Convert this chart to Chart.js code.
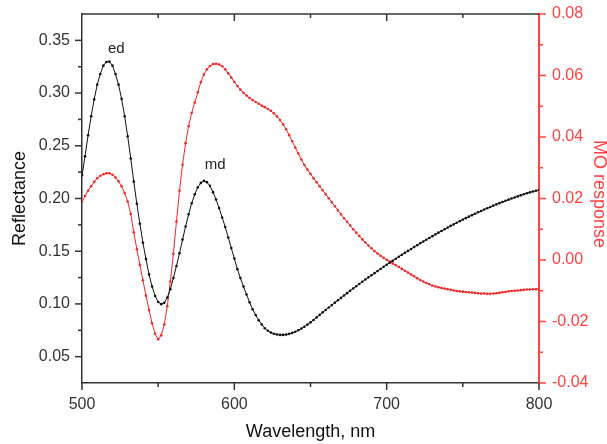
<!DOCTYPE html>
<html>
<head>
<meta charset="utf-8">
<script src="https://cdn.jsdelivr.net/npm/chart.js@4"></script>
<style>
body{margin:0;background:#fff;}
#wrap{width:607px;height:444px;position:relative;}
</style>
</head>
<body>
<div id="wrap"><canvas id="chart"></canvas></div>
<script>
// DATA

const wavelength = [
500,502,504,506,508,510,512,514,516,518,
520,522,524,526,528,530,532,534,536,538,
540,542,544,546,548,550,552,554,556,558,
560,562,564,566,568,570,572,574,576,578,
580,582,584,586,588,590,592,594,596,598,
600,602,604,606,608,610,612,614,616,618,
620,622,624,626,628,630,632,634,636,638,
640,642,644,646,648,650,652,654,656,658,
660,662,664,666,668,670,672,674,676,678,
680,682,684,686,688,690,692,694,696,698,
700,702,704,706,708,710,712,714,716,718,
720,722,724,726,728,730,732,734,736,738,
740,742,744,746,748,750,752,754,756,758,
760,762,764,766,768,770,772,774,776,778,
780,782,784,786,788,790,792,794,796,798,
800];

const reflectance = [
0.222,0.240,0.260,0.278,0.294,0.308,0.318,0.326,0.3295,0.3298,
0.326,0.318,0.308,0.2945,0.278,0.259,0.238,0.216,0.195,0.176,
0.158,0.1425,0.128,0.1165,0.1075,0.1018,0.0998,0.101,0.106,0.114,
0.1245,0.136,0.148,0.161,0.1735,0.185,0.1955,0.204,0.2105,0.2148,
0.2167,0.2155,0.212,0.206,0.199,0.191,0.182,0.173,0.163,0.153,
0.143,0.133,0.1245,0.1165,0.109,0.1015,0.095,0.0895,0.0845,0.0805,
0.077,0.0745,0.0728,0.0717,0.071,0.0706,0.0706,0.0709,0.0716,0.0725,
0.0736,0.075,0.0766,0.0784,0.0804,0.0825,0.0848,0.0872,0.0896,0.092,
0.0943,0.0966,0.0989,0.1012,0.1035,0.1057,0.108,0.1102,0.1124,0.1146,
0.1168,0.1189,0.121,0.1231,0.1252,0.1272,0.1292,0.1312,0.1332,0.1352,
0.1372,0.1391,0.141,0.1429,0.1448,0.1467,0.1485,0.1503,0.1521,0.1539,
0.1557,0.1575,0.1592,0.1609,0.1626,0.1643,0.166,0.1676,0.1692,0.1708,
0.1724,0.174,0.1755,0.177,0.1785,0.18,0.1814,0.1828,0.1842,0.1856,
0.1869,0.1882,0.1895,0.1908,0.192,0.1932,0.1944,0.1956,0.1967,0.1978,
0.1989,0.2,0.201,0.202,0.203,0.204,0.205,0.2058,0.2066,0.2073,
0.208];

const moResponse = [
0.0190,0.0208,0.0225,0.0240,0.0254,0.0266,0.0274,0.0279,0.0282,0.0282,
0.0277,0.0268,0.0256,0.0240,0.0218,0.0190,0.0150,0.0090,0.0035,-0.0016,
-0.0066,-0.0116,-0.0163,-0.0206,-0.0240,-0.0258,-0.0245,-0.0210,-0.0150,-0.0070,
0.0020,0.0125,0.0225,0.0310,0.0380,0.0435,0.0478,0.0512,0.0545,0.0578,
0.0603,0.0620,0.0631,0.0637,0.0638,0.0636,0.0630,0.0620,0.0607,0.0593,
0.0579,0.0566,0.0554,0.0544,0.0535,0.0527,0.0520,0.0514,0.0508,0.0502,
0.0497,0.0491,0.0485,0.0477,0.0467,0.0455,0.0441,0.0425,0.0406,0.0386,
0.0366,0.0346,0.0327,0.0309,0.0294,0.0280,0.0266,0.0253,0.0240,0.0227,
0.0214,0.0201,0.0188,0.0175,0.0162,0.0149,0.0136,0.0124,0.0112,0.0100,
0.0089,0.0078,0.0067,0.0057,0.0047,0.0038,0.0029,0.0021,0.0014,0.0007,
0.0001,-0.0005,-0.0011,-0.0017,-0.0023,-0.0029,-0.0035,-0.0041,-0.0047,-0.0053,
-0.0059,-0.0065,-0.0070,-0.0075,-0.0079,-0.0083,-0.0086,-0.0089,-0.0091,-0.0093,
-0.0095,-0.0097,-0.0099,-0.0101,-0.0102,-0.0103,-0.0104,-0.0105,-0.0106,-0.0107,
-0.0108,-0.0109,-0.0109,-0.0110,-0.0110,-0.0109,-0.0108,-0.0107,-0.0105,-0.0104,
-0.0102,-0.0101,-0.0100,-0.0099,-0.0098,-0.0097,-0.0096,-0.0096,-0.0095,-0.0095,
-0.0094];

const xTitle = "Wavelength, nm";
const yTitle = "Reflectance";
const y2Title = "MO response";

// peak labels, placed in data coordinates
const peakNames = ["ed", "md"];
const peakX = [522.5, 587.4];
const peakY = [0.342, 0.2316];

// STYLE

const RED = "rgb(240,40,40)";
const AXISRED = "rgb(255,65,65)";
const DARK = "#333";
const FONT = "'Liberation Sans', Arial, sans-serif";

Chart.defaults.font.family = FONT;

function isMajor(v, step){
  return Math.abs(v/step - Math.round(v/step)) < 1e-6;
}

// ticks (major/minor), top frame, titles and peak labels
const axisDecor = {
  id: "axisDecor",
  afterDraw(chart){
    const ctx = chart.ctx;
    const a = chart.chartArea;
    const x = chart.scales.x, y = chart.scales.y, y2 = chart.scales.y2;

    function seg(x1, y1, x2, y2_){
      ctx.beginPath(); ctx.moveTo(x1, y1); ctx.lineTo(x2, y2_); ctx.stroke();
    }

    ctx.save();
    ctx.lineWidth = 1.5;
    ctx.strokeStyle = DARK;
    seg(a.left, a.top, a.right, a.top);

    x.ticks.forEach(t=>{
      const px = x.getPixelForValue(t.value);
      const len = isMajor(t.value, 100) ? 7 : 4;
      seg(px, a.bottom, px, a.bottom + len);
      if (t.value > x.min && t.value < x.max) seg(px, a.top, px, a.top + len);
    });

    y.ticks.forEach(t=>{
      if (t.value <= y.min + 1e-9 || t.value >= y.max - 1e-9) return;
      const py = y.getPixelForValue(t.value);
      const len = isMajor(t.value, 0.05) ? 7 : 4;
      seg(a.left, py, a.left - len, py);
    });

    ctx.strokeStyle = AXISRED;
    y2.ticks.forEach(t=>{
      const py = y2.getPixelForValue(t.value);
      const len = isMajor(t.value, 0.02) ? 7 : 4;
      seg(a.right, py, a.right + len, py);
    });

    // axis titles
    ctx.font = "18px " + FONT;
    ctx.textAlign = "center";
    ctx.textBaseline = "middle";
    ctx.fillStyle = "#111";
    ctx.fillText(xTitle, (a.left + a.right)/2, 432);

    ctx.save();
    ctx.translate(20, (a.top + a.bottom)/2);
    ctx.rotate(-Math.PI/2);
    ctx.fillText(yTitle, 0, 0);
    ctx.restore();

    ctx.save();
    ctx.fillStyle = AXISRED;
    ctx.translate(599, 194);
    ctx.rotate(Math.PI/2);
    ctx.fillText(y2Title, 0, 0);
    ctx.restore();

    // peak labels
    ctx.font = "15px " + FONT;
    ctx.fillStyle = "#222";
    peakNames.forEach((name, i)=>{
      ctx.fillText(name, x.getPixelForValue(peakX[i]), y.getPixelForValue(peakY[i]));
    });

    ctx.restore();
  }
};

function noVPad(s){ s.paddingTop = 0; s.paddingBottom = 0; }

new Chart(document.getElementById("chart"), {
  type: "line",
  data: {
    datasets: [
      {
        label: "Reflectance",
        data: reflectance.map((v,i)=>({x: wavelength[i], y: v})),
        yAxisID: "y",
        borderColor: "#111",
        backgroundColor: "#111",
        borderWidth: 1,
        pointRadius: 1.3,
        pointBorderWidth: 0,
        pointBackgroundColor: "#111",
        fill: false
      },
      {
        label: "MO response",
        data: moResponse.map((v,i)=>({x: wavelength[i], y: v})),
        yAxisID: "y2",
        borderColor: RED,
        backgroundColor: RED,
        borderWidth: 1,
        pointRadius: 1.3,
        pointBorderWidth: 0,
        pointBackgroundColor: RED,
        fill: false
      }
    ]
  },
  options: {
    responsive: true,
    maintainAspectRatio: false,
    animation: false,
    layout: { padding: { top: 14, left: 0, right: 0, bottom: 0 } },
    plugins: { legend: { display: false }, tooltip: { enabled: false } },
    scales: {
      x: {
        type: "linear",
        min: 500, max: 800,
        grid: { display: false, drawTicks: false },
        border: { display: true, color: DARK, width: 1.5 },
        ticks: {
          stepSize: 50, autoSkip: false, maxRotation: 0, padding: 12,
          color: DARK, font: { size: 16 },
          callback: v => isMajor(v, 100) ? String(v) : ""
        },
        afterFit: s => { s.height = 61; s.paddingLeft = 0; s.paddingRight = 0; }
      },
      y: {
        position: "left",
        min: 0.025, max: 0.375,
        grid: { display: false, drawTicks: false },
        border: { display: true, color: DARK, width: 1.5 },
        ticks: {
          stepSize: 0.025, autoSkip: false, padding: 12,
          color: DARK, font: { size: 16 },
          callback: v => isMajor(v, 0.05) ? v.toFixed(2) : ""
        },
        afterFit: s => { s.width = 82; noVPad(s); }
      },
      y2: {
        position: "right",
        min: -0.04, max: 0.08,
        grid: { display: false, drawTicks: false },
        border: { display: true, color: AXISRED, width: 2 },
        ticks: {
          stepSize: 0.01, autoSkip: false, padding: 13,
          color: AXISRED, font: { size: 16 },
          callback: v => isMajor(v, 0.02) ? (Math.abs(v) < 1e-9 ? 0 : v).toFixed(2) : ""
        },
        afterFit: s => { s.width = 68; noVPad(s); }
      }
    }
  },
  plugins: [axisDecor]
});
</script>
</body>
</html>
